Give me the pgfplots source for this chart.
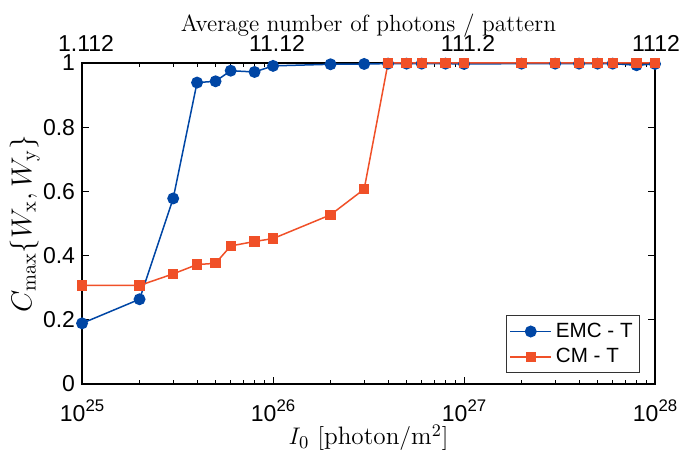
\documentclass[border=0pt]{standalone}
\usepackage{pgfplots}
\pgfplotsset{compat=1.18}
\usetikzlibrary{calc}
\usepackage{fontspec}
\newfontfamily\hv{Liberation Sans}
\definecolor{cblue}{RGB}{0,70,165}
\definecolor{cred}{RGB}{240,80,40}
\newcommand\tp[1]{10\raisebox{5pt}{\fontsize{8.4}{9}\selectfont #1}}
\pgfplotstableread{
x y
1e25 0.189
2e25 0.264
3e25 0.578
4e25 0.939
5e25 0.943
6e25 0.976
8e25 0.972
1e26 0.991
2e26 0.996
3e26 0.997
4e26 0.998
5e26 0.998
6e26 0.998
8e26 0.998
1e27 0.997
2e27 0.998
3e27 0.998
4e27 0.998
5e27 0.998
6e27 0.998
8e27 0.993
1e28 0.997
}\emc
\pgfplotstableread{
x y
1e25 0.307
2e25 0.307
3e25 0.343
4e25 0.372
5e25 0.376
6e25 0.430
8e25 0.444
1e26 0.453
2e26 0.527
3e26 0.607
4e26 1.0
5e26 1.0
6e26 1.0
8e26 1.0
1e27 1.0
2e27 1.0
3e27 1.0
4e27 1.0
5e27 1.0
6e27 1.0
8e27 1.0
1e28 1.0
}\cm
\begin{document}
\begin{tikzpicture}
\begin{axis}[
  name=main,
  scale only axis, width=286.5pt, height=160.5pt,
  xmode=log, xmin=1e25, xmax=1e28, ymin=0, ymax=1,
  xtick={1e25,1e26,1e27,1e28},
  xticklabels={\tp{25},\tp{26},\tp{27},\tp{28}},
  ytick={0,0.2,0.4,0.6,0.8,1},
  yticklabels={0,0.2,0.4,0.6,0.8,1},
  ticklabel style={font=\hv\fontsize{11.5}{13}\selectfont},
  xticklabel style={anchor=base, yshift=-19pt},
  /pgf/number format/assume math mode=true,
  tick align=inside,
  major tick length=3.5pt, minor tick length=2pt,
  axis line style={line width=0.6pt},
  tick style={line width=0.5pt, black},
  xlabel={$I_0\ [\mathrm{photon/m^2}]$},
  ylabel={$C_{\max}\{W_{\mathrm{x}},W_{\mathrm{y}}\}$},
  xlabel style={font=\fontsize{12.6}{14}\selectfont, at={(axis description cs:0.5,0)}, anchor=base, yshift=-30.5pt},
  ylabel style={font=\fontsize{14.5}{16}\selectfont, at={(axis description cs:-0.1,0.5)}, anchor=center},
  clip=false,
  legend style={at={(0.974,0.034)}, anchor=south east, font=\hv\fontsize{10.3}{12}\selectfont, draw=black!80, line width=0.5pt, inner sep=1.5pt, row sep=0pt},
  legend image code/.code={\draw[line width=0.75pt, mark repeat=2,mark phase=2] plot coordinates {(0cm,0cm) (0.36cm,0cm) (0.72cm,0cm)};},
  legend cell align=left,
]
\addplot[color=cblue, line width=0.75pt, mark=*, mark size=2.6pt, mark options={solid, fill=cblue}] table {\emc};
\addlegendentry{EMC - T}
\addplot[color=cred, line width=0.75pt, mark=square*, mark size=2.2pt, mark options={solid, fill=cred}] table {\cm};
\addlegendentry{CM - T}
\end{axis}
\begin{scope}[every node/.style={anchor=base, font=\hv\fontsize{11.5}{13}\selectfont, inner sep=0pt}]
\node at ([xshift=2pt, yshift=5.5pt]main.north west) {1.112};
\node at ([xshift=2pt, yshift=5.5pt]$(main.north west)!0.3333!(main.north east)$) {11.12};
\node at ([xshift=2pt, yshift=5.5pt]$(main.north west)!0.6667!(main.north east)$) {111.2};
\node at ([xshift=0.5pt, yshift=5.5pt]main.north east) {1112};
\end{scope}
\node[anchor=base, font=\fontsize{11.7}{14}\selectfont, inner sep=0pt] at ([yshift=15.5pt]main.north) {Average number of photons / pattern};
\pgfresetboundingbox
\path[use as bounding box] ([xshift=-41pt, yshift=-35pt]main.south west) rectangle ([xshift=12.5pt, yshift=31.5pt]main.north east);
\end{tikzpicture}
\end{document}
